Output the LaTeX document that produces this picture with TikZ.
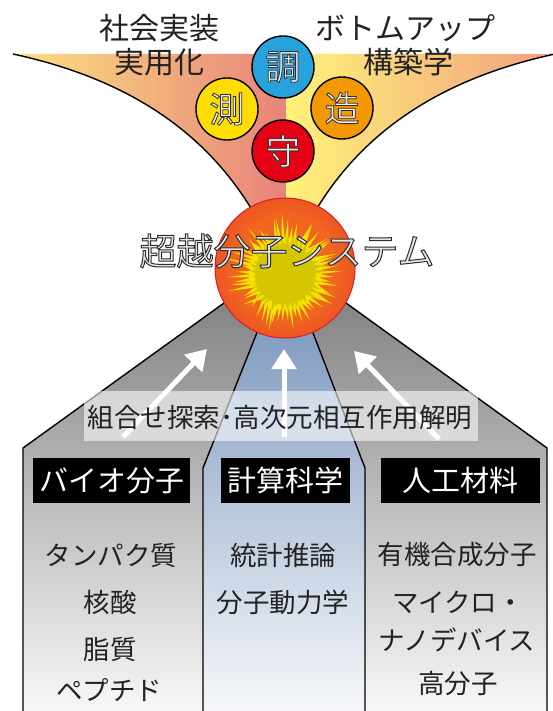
\documentclass[tikz,border=0pt]{standalone}
\usepackage{fontspec}
\newfontfamily\jp{Noto Sans CJK JP}
\usetikzlibrary{arrows.meta}

% palette
\definecolor{funLa}{HTML}{FDE57F}
\definecolor{funLb}{HTML}{F4B878}
\definecolor{funLc}{HTML}{E8837B}
\definecolor{funRa}{HTML}{FFF27A}
\definecolor{funRb}{HTML}{F9D472}
\definecolor{funRc}{HTML}{F19E80}
\definecolor{sealBlue}{HTML}{27A2DC}
\definecolor{sealYellow}{HTML}{FFDD00}
\definecolor{sealOrange}{HTML}{F39800}
\definecolor{sealRed}{HTML}{E60013}
\definecolor{coreIn}{HTML}{F0661F}
\definecolor{coreMid}{HTML}{EB4627}
\definecolor{coreOut}{HTML}{E2302A}
\definecolor{coreRim}{HTML}{D21F2A}
\definecolor{burstHi}{HTML}{F4E300}
\definecolor{burstLo}{HTML}{D4C600}
\definecolor{greyTop}{HTML}{787878}
\definecolor{greyBot}{HTML}{F8F8F8}
\definecolor{blueTop}{HTML}{7F9BC0}
\definecolor{blueBot}{HTML}{F7F8FA}
\definecolor{ink}{HTML}{222222}

\pgfdeclareradialshading{coreball}{\pgfpoint{0bp}{0bp}}{%
  color(0bp)=(coreIn); color(18bp)=(coreIn); color(32bp)=(coreMid);
  color(46bp)=(coreOut); color(50bp)=(coreOut)}

% hollow lettering: glyphs filled in the current colour and stroked in dark grey
\newcommand\hollow[2][0.8]{%
  \special{pdf:literal direct 0.18 0.18 0.18 RG #1 w 2 Tr}#2\special{pdf:literal direct 0 Tr}}

\tikzset{
  edge/.style={draw=black, line width=1.4pt, line join=round},
  toptext/.style={inner sep=0pt, text=ink, font=\jp\fontsize{30}{30}\selectfont},
  seal/.style={circle, draw=black, line width=1.4pt, minimum size=62pt, inner sep=0pt,
    text=black!6, font=\jp\fontsize{35}{35}\selectfont},
  title/.style={inner sep=0pt, text=black!10, font=\jp\fontsize{37}{37}\selectfont},
  band/.style={fill=white, fill opacity=0.58},
  bandtext/.style={inner sep=0pt, text=ink, font=\jp\fontsize{26.5}{26.5}\selectfont},
  uparrow/.style={draw=white, line width=5pt, -{Triangle[length=20pt,width=24pt]}},
  tag/.style={fill=black, text=white, inner sep=0pt, minimum height=45pt,
    font=\jp\fontsize{29}{29}\selectfont},
  item/.style={inner sep=0pt, text=ink, font=\jp\fontsize{26.5}{26.5}\selectfont},
}

\begin{document}
\begin{tikzpicture}[x=1pt,y=-1pt]
\useasboundingbox (0,0) rectangle (553,711);

% ---- funnel at the top ----
\coordinate (fL) at (13,54);
\coordinate (fR) at (555,54);
\coordinate (nL) at (255,215);
\coordinate (nR) at (313,215);
\def\funnelpath{(fL) -- (fR) .. controls (458,75) and (368,120) .. (nR)
  -- (nL) .. controls (200,120) and (110,75) .. (fL) -- cycle}
\begin{scope}
  \clip \funnelpath;
  \shade[left color=funLa, middle color=funLb, right color=funLc] (0,40) rectangle (286,230);
  \shade[left color=funRa, middle color=funRb, right color=funRc] (286,40) rectangle (560,230);
\end{scope}
\draw[edge] (fL) .. controls (110,75) and (200,120) .. (nL);
\draw[edge] (fR) .. controls (458,75) and (368,120) .. (nR);

% ---- lower blocks ----
\coordinate (gApex) at (285,259);
\coordinate (gL) at (23,448);
\coordinate (gR) at (547,448);
\coordinate (gLb) at (23,713);
\coordinate (gRb) at (547,713);
\shade[top color=greyTop, bottom color=greyBot] (gLb) -- (gL) -- (gApex) -- (gR) -- (gRb) -- cycle;
\draw[edge] (gLb) -- (gL) -- (gApex) -- (gR) -- (gRb);

\coordinate (bTL) at (262,320);
\coordinate (bTR) at (308,320);
\coordinate (bL) at (203,468);
\coordinate (bR) at (365,468);
\coordinate (bLb) at (203,713);
\coordinate (bRb) at (365,713);
\shade[top color=blueTop, bottom color=blueBot] (bLb) -- (bL) -- (bTL) -- (bTR) -- (bR) -- (bRb) -- cycle;
\draw[edge] (bLb) -- (bL) -- (bTL);
\draw[edge] (bTR) -- (bR) -- (bRb);

% ---- central sphere with burst ----
\node[circle, minimum size=140pt, inner sep=0pt, shading=coreball, draw=coreRim, line width=1pt]
  (core) at (285,268) {};
\begin{scope}[shift={(core.center)}, yshift=-6pt]
  \pgfmathsetseed{11}
  \fill[burstHi] (0:34) \foreach \i in {0,...,59} { -- ({\i*6}:34) -- ({\i*6+3}:{42+20*rnd}) } -- cycle;
  \fill[burstLo] (0:28) \foreach \i in {0,...,39} { -- ({\i*9}:28) -- ({\i*9+4.5}:{32+12*rnd}) } -- cycle;
  \fill[burstLo] (0,0) circle (30);
\end{scope}

% ---- four seals ----
\node[seal, fill=sealBlue]   (cho)  at (283,67)  {\hollow{調}};
\node[seal, fill=sealYellow] (soku) at (227,109) {\hollow{測}};
\node[seal, fill=sealOrange] (zo)   at (342,108) {\hollow{造}};
\node[seal, fill=sealRed]    (mamo) at (283,151) {\hollow{守}};

% ---- headings ----
\node[toptext] (social) at (159,28) {社会実装};
\node[toptext] (applied) at (159,62) {実用化};
\node[toptext] (bottomup) at (405,28) {ボトムアップ};
\node[toptext] (build) at (408,62) {構築学};
\node[title] (system) at (287,251) {\hollow[1]{超越分子システム}};

% ---- band with arrows ----
\fill[band] (84,391) rectangle (478,441);
\coordinate (a1s) at (123,437);
\coordinate (a1e) at (207,349);
\coordinate (a2s) at (284,437);
\coordinate (a2e) at (284,349);
\coordinate (a3s) at (439,439);
\coordinate (a3e) at (354,351);
\draw[uparrow] (a1s) -- (a1e);
\draw[uparrow] (a2s) -- (a2e);
\draw[uparrow] (a3s) -- (a3e);
\node[bandtext] (search) at (280,418) {組合せ探索･高次元相互作用解明};

% ---- column tags ----
\node[tag, minimum width=157pt] (bio)  at (111.5,480.5) {バイオ分子};
\node[tag, minimum width=129pt] (comp) at (285.5,480.5) {計算科学};
\node[tag, minimum width=159pt] (art)  at (460.5,480.5) {人工材料};

% ---- column items ----
\node[item] (protein) at (111,555) {タンパク質};
\node[item] (nucleic) at (110,602) {核酸};
\node[item] (lipid)   at (110,649) {脂質};
\node[item] (peptide) at (109,690) {ペプチド};
\node[item] (stat)    at (283,555) {統計推論};
\node[item] (md)      at (283,602) {分子動力学};
\node[item] (organic) at (457,555) {有機合成分子};
\node[item] (micro)   at (458,602) {マイクロ・};
\node[item] (nano)    at (457,640) {ナノデバイス};
\node[item] (poly)    at (458,683) {高分子};
\end{tikzpicture}
\end{document}
